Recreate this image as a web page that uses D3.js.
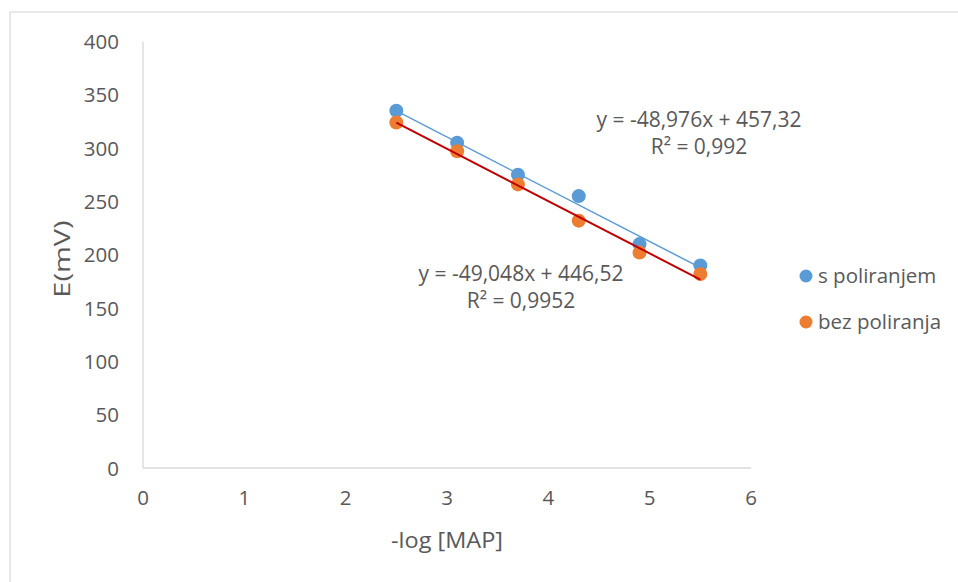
<!DOCTYPE html>
<html>
<head>
<meta charset="utf-8">
<script src="https://cdn.jsdelivr.net/npm/d3@7"></script>
<style>
  html, body { margin: 0; padding: 0; background: #fff; }
  text { font-family: "Open Sans", "Noto Sans", sans-serif; fill: #595959; }
</style>
</head>
<body>
<svg id="chart" width="958" height="582"></svg>
<script>
// ---- data ----
const xValues = [2.5, 3.1, 3.7, 4.3, 4.9, 5.5];
const sPoliranjem = [335, 305, 275, 255, 210, 190];
const bezPoliranja = [324, 297, 266, 232, 202, 182];
const seriesNames = ["s poliranjem", "bez poliranja"];
const xTicks = [0, 1, 2, 3, 4, 5, 6];
const yTicks = [0, 50, 100, 150, 200, 250, 300, 350, 400];
const trendBlue = { slope: -48.976, intercept: 457.32, eq: "y = -48,976x + 457,32", r2: "R² = 0,992" };
const trendOrange = { slope: -49.048, intercept: 446.52, eq: "y = -49,048x + 446,52", r2: "R² = 0,9952" };

const svg = d3.select("#chart");
const colors = { blue: "#5B9BD5", orange: "#ED7D31", red: "#C00000" };

// outer chart border
svg.append("rect").attr("x", 10).attr("y", 12).attr("width", 1000).attr("height", 1000)
  .attr("fill", "none").attr("stroke", "#d9d9d9").attr("stroke-width", 1.2);

const x = d3.scaleLinear().domain([0, 6]).range([143, 751]);
const y = d3.scaleLinear().domain([0, 400]).range([468, 41.5]);

// axes lines
svg.append("line").attr("x1", x(0)).attr("x2", x(6)).attr("y1", y(0)).attr("y2", y(0))
  .attr("stroke", "#d9d9d9").attr("stroke-width", 1.3);
svg.append("line").attr("x1", x(0)).attr("x2", x(0)).attr("y1", y(0)).attr("y2", y(400))
  .attr("stroke", "#d9d9d9").attr("stroke-width", 1.3);

// tick labels
svg.selectAll(".ylab").data(yTicks).enter().append("text")
  .attr("x", 119).attr("y", d => y(d) + 7.5)
  .attr("text-anchor", "end").attr("font-size", 20.5).text(d => d);
svg.selectAll(".xlab").data(xTicks).enter().append("text")
  .attr("x", d => x(d)).attr("y", 505)
  .attr("text-anchor", "middle").attr("font-size", 20.5).text(d => d);

// axis titles
svg.append("text").attr("transform", "translate(70,259) rotate(-90) scale(1.38,1)")
  .attr("text-anchor", "middle").attr("font-size", 21).text("E(mV)");
svg.append("text").attr("transform", "translate(447,548) scale(1.12,1)")
  .attr("text-anchor", "middle").attr("font-size", 21).text("-log [MAP]");

// trendlines
const xMin = d3.min(xValues), xMax = d3.max(xValues);
function trend(t, color, w) {
  svg.append("line")
    .attr("x1", x(xMin)).attr("y1", y(t.slope * xMin + t.intercept))
    .attr("x2", x(xMax)).attr("y2", y(t.slope * xMax + t.intercept))
    .attr("stroke", color).attr("stroke-width", w);
}

// points
function pts(vals, color) {
  svg.append("g").selectAll("circle").data(vals).enter().append("circle")
    .attr("cx", (d, i) => x(xValues[i])).attr("cy", d => y(d))
    .attr("r", 7).attr("fill", color);
}
pts(sPoliranjem, colors.blue);
pts(bezPoliranja, colors.orange);
trend(trendBlue, colors.blue, 1.5);
trend(trendOrange, colors.red, 2);

// equation labels
function eqLabel(t, cx, by) {
  svg.append("text").attr("x", cx).attr("y", by).attr("text-anchor", "middle")
    .attr("font-size", 21).text(t.eq);
  svg.append("text").attr("x", cx).attr("y", by + 27).attr("text-anchor", "middle")
    .attr("font-size", 21).text(t.r2);
}
eqLabel(trendBlue, 699, 127);
eqLabel(trendOrange, 521, 281);

// legend
const legend = svg.append("g");
[colors.blue, colors.orange].forEach((c, i) => {
  legend.append("circle").attr("cx", 806).attr("cy", 276 + i * 46).attr("r", 6.5).attr("fill", c);
  legend.append("text").attr("x", 818).attr("y", 283 + i * 46)
    .attr("font-size", 20.5).text(seriesNames[i]);
});
</script>
</body>
</html>
